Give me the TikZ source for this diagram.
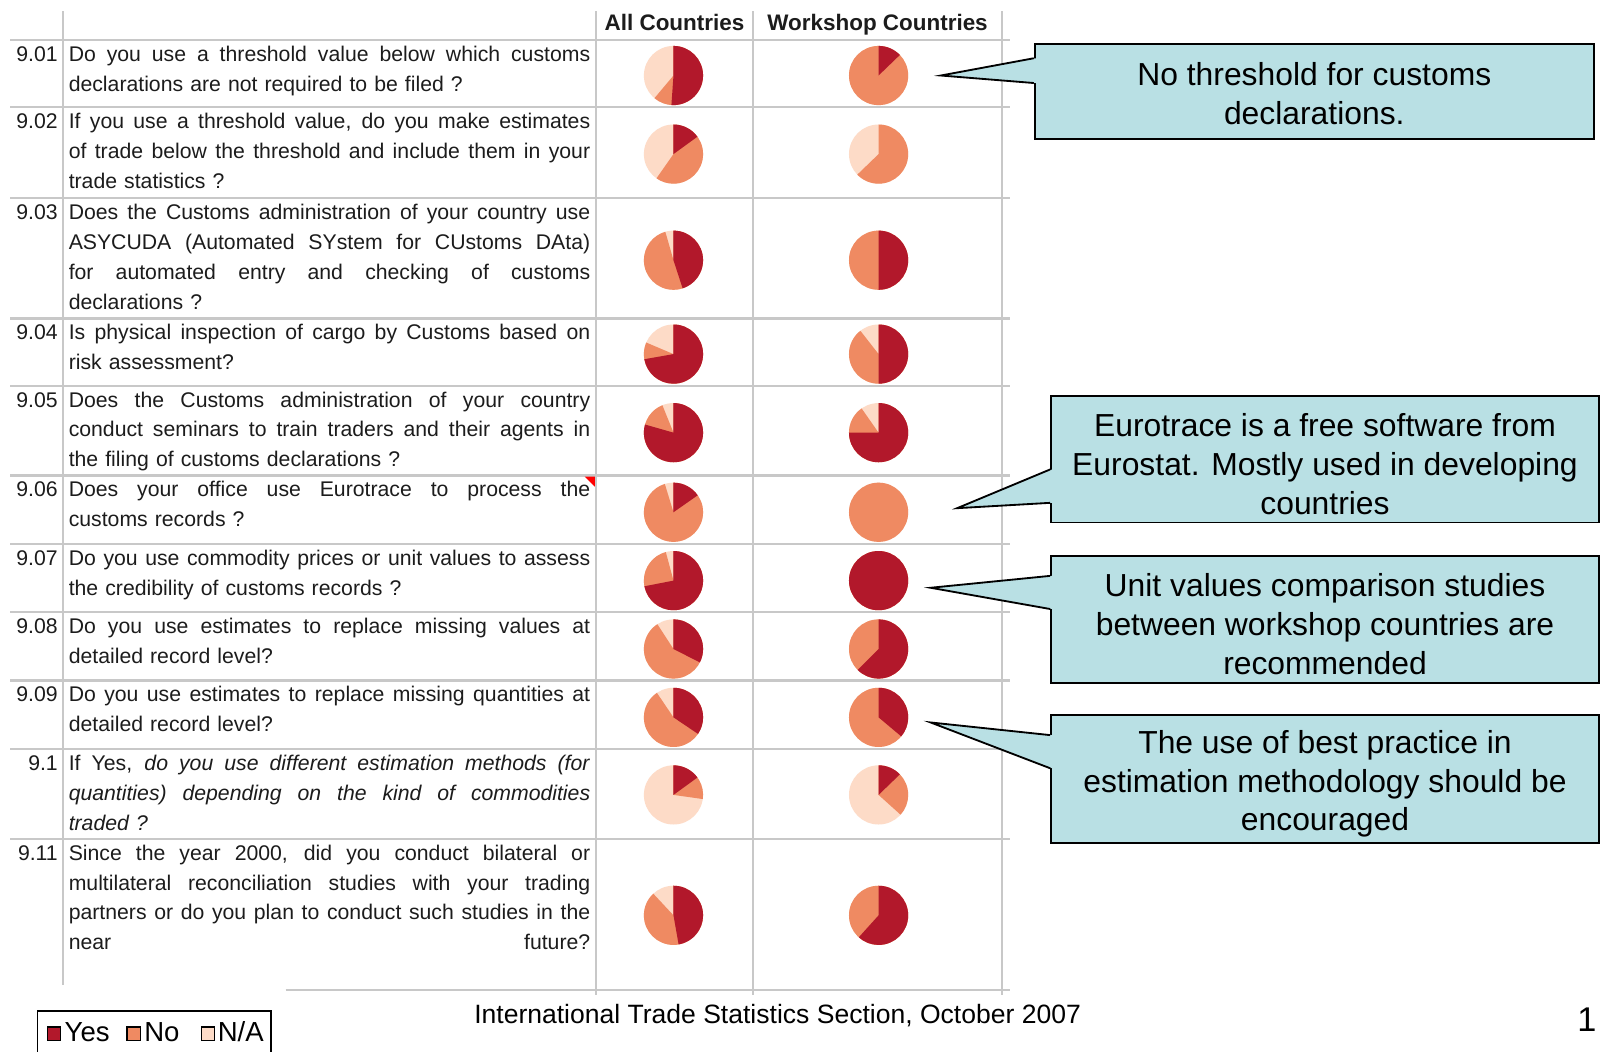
\documentclass[tikz,border=0pt]{standalone}
\usepackage{fontspec}
\setmainfont{Liberation Sans}
\usetikzlibrary{calc}

\definecolor{yescol}{RGB}{178,24,43}
\definecolor{nocol}{RGB}{239,138,98}
\definecolor{nacol}{RGB}{253,219,199}
\definecolor{callfill}{RGB}{185,224,228}
\definecolor{gridcol}{RGB}{200,200,200}
\definecolor{txtcol}{RGB}{28,28,28}

\newlength{\qw}
\setlength{\qw}{255.5pt}
\newcommand{\qfont}{\fontsize{10.4}{14.65}\selectfont\parindent=0pt}
\newcommand{\jlast}[1]{{\spaceskip=0pt\xspaceskip=0pt\makebox[\qw][s]{#1}}}
\newcommand{\jl}[1]{\jlast{#1}\\}
\newcommand{\piechart}[4]{%
  \fill[nacol] (#1,#2) circle (29);
  \ifnum#4>0 \fill[nocol] (#1,#2) -- ++(-90:29) arc[start angle=-90,end angle=-90+#4,radius=29] -- cycle;\fi
  \ifnum#3>0 \fill[yescol] (#1,#2) -- ++(-90:29) arc[start angle=-90,end angle=-90+#3,radius=29] -- cycle;\fi
}

\tikzset{
  gridline/.style={draw=gridcol,line width=1.2pt},
  qtext/.style={anchor=north west,inner sep=0pt,text width=\qw,align=left,font=\qfont,text=txtcol},
  qnum/.style={anchor=north east,inner sep=0pt,font=\qfont,text=txtcol},
  colhead/.style={anchor=base,inner sep=0pt,font=\fontsize{11}{13}\selectfont\bfseries,text=txtcol},
  callout/.style={draw=black,line width=0.9pt,fill=callfill,inner sep=0pt,align=center,font=\fontsize{15.6}{19}\selectfont},
  pointer/.style={draw=black,line width=0.9pt},
  legsq/.style={draw=black,line width=0.6pt,minimum size=6.5pt,inner sep=0pt},
  legtxt/.style={anchor=base west,inner sep=0pt,font=\fontsize{13.5}{16}\selectfont},
}

\begin{document}
\begin{tikzpicture}[x=0.5pt,y=-0.5pt]
\fill[white] (0,0) rectangle (1568,1030);
\clip (0,0) rectangle (1568,1030);

\foreach \y in {39,105,194,312,378,466,533,600,667,734,822}
  \draw[gridline] (10,\y) -- (990,\y);
\draw[gridline] (280,970) -- (990,970);
\draw[gridline] (62,11) -- (62,965);
\foreach \x in {584,738,982}
  \draw[gridline] (\x,11) -- (\x,975);

\node[colhead] (hall) at (661,30) {All Countries};
\node[colhead] (hws) at (860,30) {Workshop Countries};

\node[qnum] (n901) at (57,39) {\strut 9.01};
\node[qtext] (q901) at (67,39) {\jl{\strut Do you use a threshold value below which customs}declarations are not required to be filed ?};
\node[qnum] (n902) at (57,105) {\strut 9.02};
\node[qtext] (q902) at (67,105) {\jl{\strut If you use a threshold value, do you make estimates}\jl{of trade below the threshold and include them in your}trade statistics ?};
\node[qnum] (n903) at (57,194) {\strut 9.03};
\node[qtext] (q903) at (67,194) {\jl{\strut Does the Customs administration of your country use}\jl{ASYCUDA (Automated SYstem for CUstoms DAta)}\jl{for automated entry and checking of customs}declarations ?};
\node[qnum] (n904) at (57,312) {\strut 9.04};
\node[qtext] (q904) at (67,312) {\jl{\strut Is physical inspection of cargo by Customs based on}risk assessment?};
\node[qnum] (n905) at (57,378) {\strut 9.05};
\node[qtext] (q905) at (67,378) {\jl{\strut Does the Customs administration of your country}\jl{conduct seminars to train traders and their agents in}the filing of customs declarations ?};
\node[qnum] (n906) at (57,466) {\strut 9.06};
\node[qtext] (q906) at (67,466) {\jl{\strut Does your office use Eurotrace to process the}customs records ?};
\node[qnum] (n907) at (57,533) {\strut 9.07};
\node[qtext] (q907) at (67,533) {\jl{\strut Do you use commodity prices or unit values to assess}the credibility of customs records ?};
\node[qnum] (n908) at (57,600) {\strut 9.08};
\node[qtext] (q908) at (67,600) {\jl{\strut Do you use estimates to replace missing values at}detailed record level?};
\node[qnum] (n909) at (57,667) {\strut 9.09};
\node[qtext] (q909) at (67,667) {\jl{\strut Do you use estimates to replace missing quantities at}detailed record level?};
\node[qnum] (n910) at (57,734) {\strut 9.1};
\node[qtext] (q910) at (67,734) {\jl{\strut If Yes, \textit{do you use different estimation methods (for}}\jl{\textit{quantities) depending on the kind of commodities}}\textit{traded ?}};
\node[qnum] (n911) at (57,822) {\strut 9.11};
\node[qtext] (q911) at (67,822) {\jl{\strut Since the year 2000, did you conduct bilateral or}\jl{multilateral reconciliation studies with your trading}\jl{partners or do you plan to conduct such studies in the}\jlast{near future?}};
\fill[red] (573,467) -- (583,467) -- (583,477) -- cycle;

\foreach \y/\a/\b/\c/\d in {74/184/220/46/360,151/54/215/0/226,255/162/344/180/360,347/260/293/180/322,424/286/338/270/325,502/55/343/0/360,569/259/345/360/360,636/117/327/225/360,703/124/326/130/360,779/54/98/46/132,897/170/317/222/360}
  {\piechart{660}{\y}{\a}{\b}\piechart{861}{\y}{\c}{\d}}

\node[callout,minimum width=274pt,minimum height=46.5pt] (c1) at (1288,89.5) {\rule{0pt}{13.6pt}No threshold for customs\\declarations.};
\node[callout,minimum width=268.5pt,minimum height=62pt] (c2) at (1298.5,450) {\rule{0pt}{16pt}Eurotrace is a free software from\\Eurostat. Mostly used in developing\\countries};
\node[callout,minimum width=268.5pt,minimum height=62pt] (c3) at (1298.5,607) {\rule{0pt}{16pt}Unit values comparison studies\\between workshop countries are\\recommended};
\node[callout,minimum width=268.5pt,minimum height=62.5pt] (c4) at (1298.5,763.5) {\rule{0pt}{16pt}The use of best practice in\\estimation methodology should be\\encouraged};
\coordinate (t1) at (922,74);
\coordinate (t2) at (938,498);
\coordinate (t3) at (912,576);
\coordinate (t4) at (912,708);
\foreach \c/\t/\p/\q in {c1/t1/.158/.414,c2/t2/.58/.84,c3/t3/.161/.419,c4/t4/.16/.416}{
  \fill[callfill] (\t) -- ($(\c.north west)!\p!(\c.south west)+(2,0)$) -- ($(\c.north west)!\q!(\c.south west)+(2,0)$) -- cycle;
  \draw[pointer] ($(\c.north west)!\p!(\c.south west)$) -- (\t) -- ($(\c.north west)!\q!(\c.south west)$);
}

\node[draw=black,line width=0.8pt,anchor=north west,minimum width=114.5pt,minimum height=40pt,inner sep=0pt] (legend) at (36,990) {};
\node[legsq,fill=yescol] (sqyes) at (53,1013) {};
\node[legtxt] (lyes) at (63,1021) {Yes};
\node[legsq,fill=nocol] (sqno) at (131,1013) {};
\node[legtxt] (lno) at (141,1021) {No};
\node[legsq,fill=nacol] (sqna) at (204,1013) {};
\node[legtxt] (lna) at (213,1021) {N/A};

\node[anchor=base,inner sep=0pt,font=\fontsize{13}{15}\selectfont] (foot) at (762,1003) {International Trade Statistics Section, October 2007};
\node[anchor=base east,inner sep=0pt,font=\fontsize{16.8}{20}\selectfont] (pgnum) at (1565,1011) {1};
\end{tikzpicture}
\end{document}
